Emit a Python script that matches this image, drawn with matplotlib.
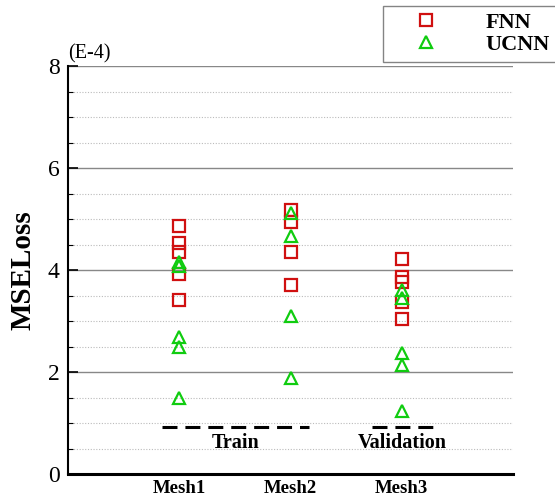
import numpy as np
import matplotlib.pyplot as plt
from matplotlib.ticker import MultipleLocator

# Data (MSE loss, units of 1E-4)
mesh_labels = ['Mesh1', 'Mesh2', 'Mesh3']
fnn_mesh1 = [4.87, 4.53, 4.35, 3.92, 3.42]
fnn_mesh2 = [5.18, 4.94, 4.35, 3.70]
fnn_mesh3 = [4.22, 3.87, 3.77, 3.38, 3.03]
ucnn_mesh1 = [4.16, 4.08, 2.69, 2.49, 1.50]
ucnn_mesh2 = [5.12, 4.67, 3.09, 1.88]
ucnn_mesh3 = [3.60, 3.45, 2.38, 2.14, 1.23]

# group annotations: label, x-extent of the dashed bar
group_labels = ['Train', 'Validation']
group_starts = [0.845, 2.73]
group_ends = [2.17, 3.28]
group_level = 0.92

fnn = [fnn_mesh1, fnn_mesh2, fnn_mesh3]
ucnn = [ucnn_mesh1, ucnn_mesh2, ucnn_mesh3]

plt.rcParams['font.family'] = ['Liberation Serif', 'DejaVu Serif']

fig = plt.figure(figsize=(5.55, 4.97), dpi=100)
ax = fig.add_axes([68/555, 23/497, 445/555, 408/497])

red = '#d01010'
green = '#10cc10'
for i in range(3):
    ax.plot([i + 1] * len(fnn[i]), fnn[i], 's', ls='none', mfc='none', mec=red,
            ms=8.5, mew=1.6, label='FNN' if i == 0 else None, zorder=3)
    ax.plot([i + 1] * len(ucnn[i]), ucnn[i], '^', ls='none', mfc='none', mec=green,
            ms=9, mew=1.6, label='UCNN' if i == 0 else None, zorder=4)

# dashed group bars and labels
for lab, x0, x1 in zip(group_labels, group_starts, group_ends):
    ax.plot([x0, x1], [group_level, group_level], color='black', lw=2.2,
            dashes=(4.9, 2.6), zorder=2)
    ax.text((x0 + x1) / 2, group_level - 0.12, lab, ha='center', va='top',
            fontsize=14.5, fontweight='bold')

ax.set_xlim(0, 4)
ax.set_ylim(0, 8)
ax.set_xticks([1, 2, 3])
ax.set_xticklabels(mesh_labels, fontsize=13.5, fontweight='bold')
ax.tick_params(axis='x', length=0, pad=4)
ax.yaxis.set_major_locator(MultipleLocator(2))
ax.yaxis.set_minor_locator(MultipleLocator(0.5))
ax.tick_params(axis='y', which='major', direction='in', length=7, width=1.2,
               labelsize=17, pad=6)
ax.tick_params(axis='y', which='minor', direction='in', length=3.5, width=0.8)

ax.grid(axis='y', which='major', color='#888888', lw=1.0)
ax.grid(axis='y', which='minor', color='#bbbbbb', lw=0.8, ls=(0, (1, 1.5)))
ax.set_axisbelow(True)

for s in ['top', 'right']:
    ax.spines[s].set_visible(False)
ax.spines['left'].set_linewidth(1.5)
ax.spines['bottom'].set_linewidth(2.2)

ax.set_ylabel('MSELoss', fontsize=21, fontweight='bold', labelpad=8)
ax.text(0.0, 1.005, '(E-4)', transform=ax.transAxes, fontsize=14.5,
        ha='left', va='bottom')

leg = ax.legend(loc='upper left', bbox_to_anchor=(383/555, 1 - 6/497),
                bbox_transform=fig.transFigure,
                prop={'weight': 'bold', 'size': 16}, frameon=True,
                fancybox=False, edgecolor='#666666', borderpad=0.3,
                handlelength=3.3, handletextpad=1.0, labelspacing=0.05,
                borderaxespad=0)
leg.get_frame().set_linewidth(1.0)

fig.savefig('out.png', dpi=100)
